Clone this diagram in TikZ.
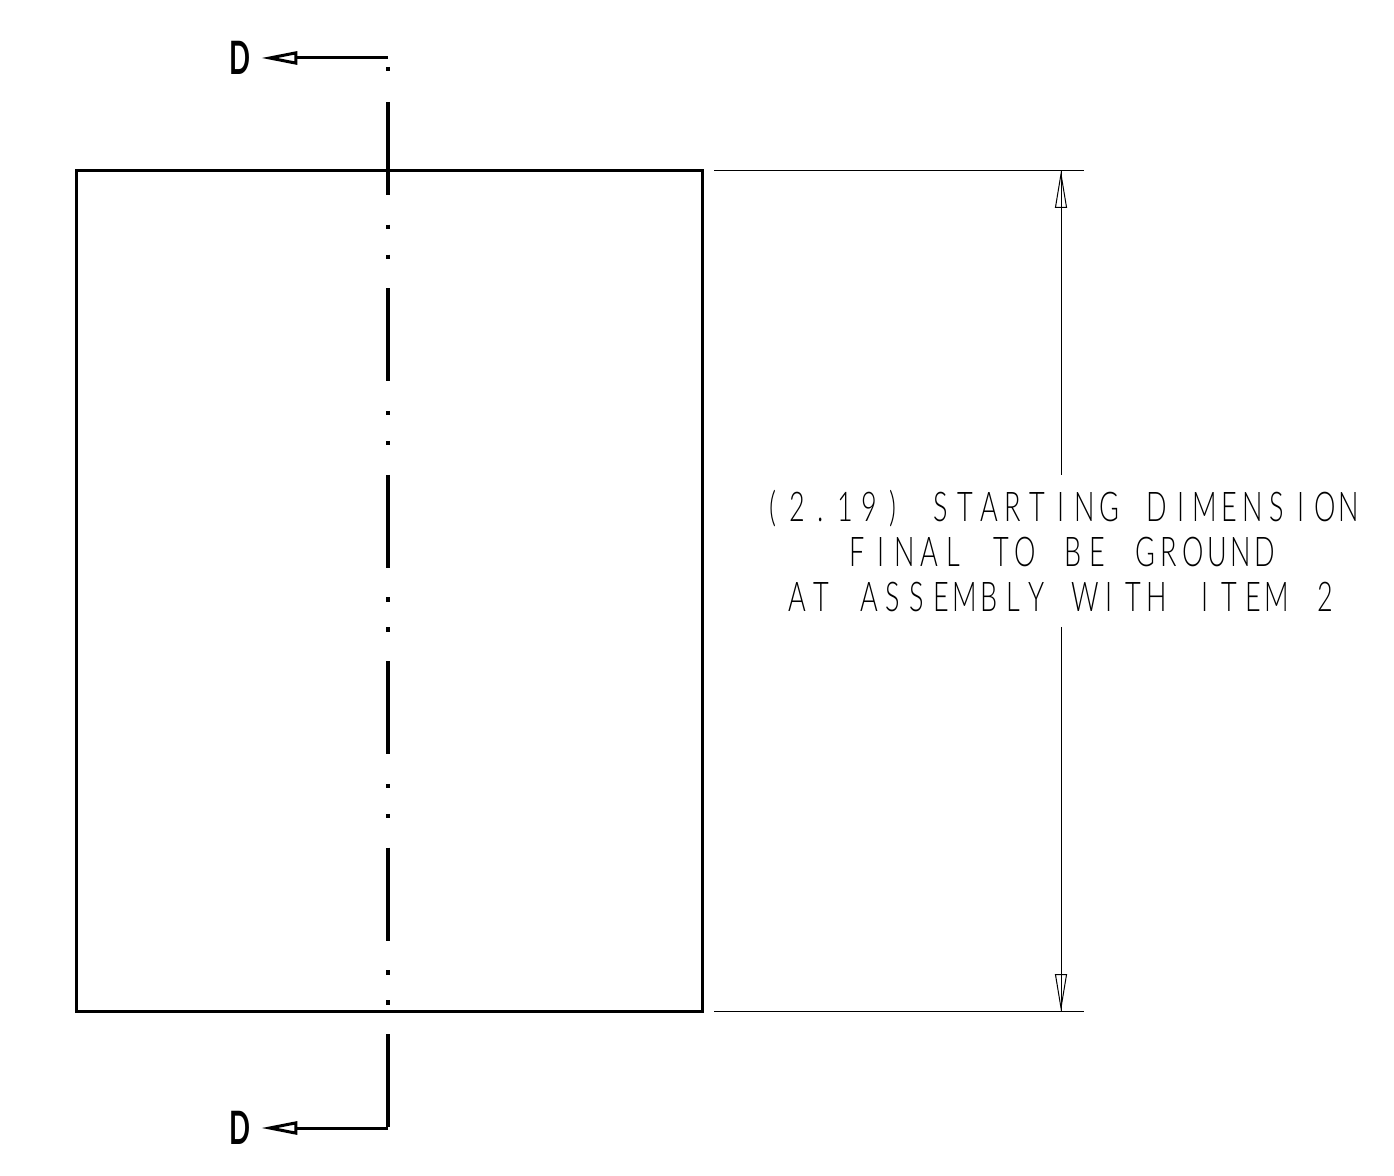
\documentclass[tikz,border=0pt]{standalone}
\usepackage{fontspec}
\usetikzlibrary{arrows.meta,positioning}
\newfontfamily\dimfont[FakeStretch=0.66]{Lato Light}
\newfontfamily\cutfont[FakeStretch=0.6]{Lato}
\ExplSyntaxOn
\NewDocumentCommand{\monotext}{m}{\text_map_inline:nn{#1}{\makebox[12pt]{##1}}}
\ExplSyntaxOff
\tikzset{
  partline/.style={line width=1.5pt},
  thinline/.style={line width=0.5pt},
  centerline/.style={line width=1.6pt, dash pattern=on 46.5pt off 14.8pt on 2.2pt off 12.8pt on 2.2pt off 14.7pt},
  cutline/.style={line width=1.5pt, shorten >=5.2pt, -{Triangle[open,length=18pt,width=6.5pt]}},
  dimtip/.tip={Triangle[open,length=18.5pt,width=6pt,line width=0.5pt]},
  cutlabel/.style={inner sep=0pt, font=\cutfont\bfseries\fontsize{23}{23}\selectfont},
  dimlabel/.style={inner sep=0pt, minimum height=75.5pt, align=center, font=\dimfont\fontsize{20.5}{22.5}\selectfont}
}
\begin{document}
\begin{tikzpicture}[x=0.5pt, y=-0.5pt]
   \useasboundingbox (0,0) rectangle (1394,1176);

   \node[draw, partline, minimum width=313pt, minimum height=420pt, inner sep=0pt] (part) at (389,591) {};

   \node[cutlabel] (cutA) at (240,58) {D};
   \node[cutlabel] (cutB) at (240,1128) {D};
   \coordinate (cuttop) at (388,58);
   \coordinate (cutbot) at (388,1128);
   \coordinate (dotA) at (388,67);
   \coordinate (dotB) at (388,71);
   \coordinate (centerA) at (388,102);

   \node[dimlabel] (dimtext) at (1061,551) {\monotext{(2.19) STARTING DIMENSION}\\\monotext{FINAL TO BE GROUND}\\\monotext{AT ASSEMBLY WITH ITEM 2}};

   \coordinate (extAa) at (714,171);
   \coordinate (extAb) at (1084,171);
   \coordinate (extBa) at (714,1011);
   \coordinate (extBb) at (1084,1011);
   \coordinate (dimtop) at (1061,171);
   \coordinate (dimbot) at (1061,1011);

   % cutting plane
   \draw[centerline] (centerA) -- (cutbot);
   \draw[line width=1.6pt] (dotA) -- (dotB);
   \draw[cutline] (cuttop) -- (cutA);
   \draw[cutline] (cutbot) -- (cutB);

   % dimension
   \draw[thinline] (extAa) -- (extAb);
   \draw[thinline] (extBa) -- (extBb);
   \draw[thinline, {dimtip}-] (dimtop) -- (dimtop |- dimtext.north);
   \draw[thinline, -{dimtip}] (dimtop |- dimtext.south) -- (dimbot);
   \draw[thinline] (dimtop) -- ++(0,37);
   \draw[thinline] (dimbot) -- ++(0,-37);
\end{tikzpicture}
\end{document}
